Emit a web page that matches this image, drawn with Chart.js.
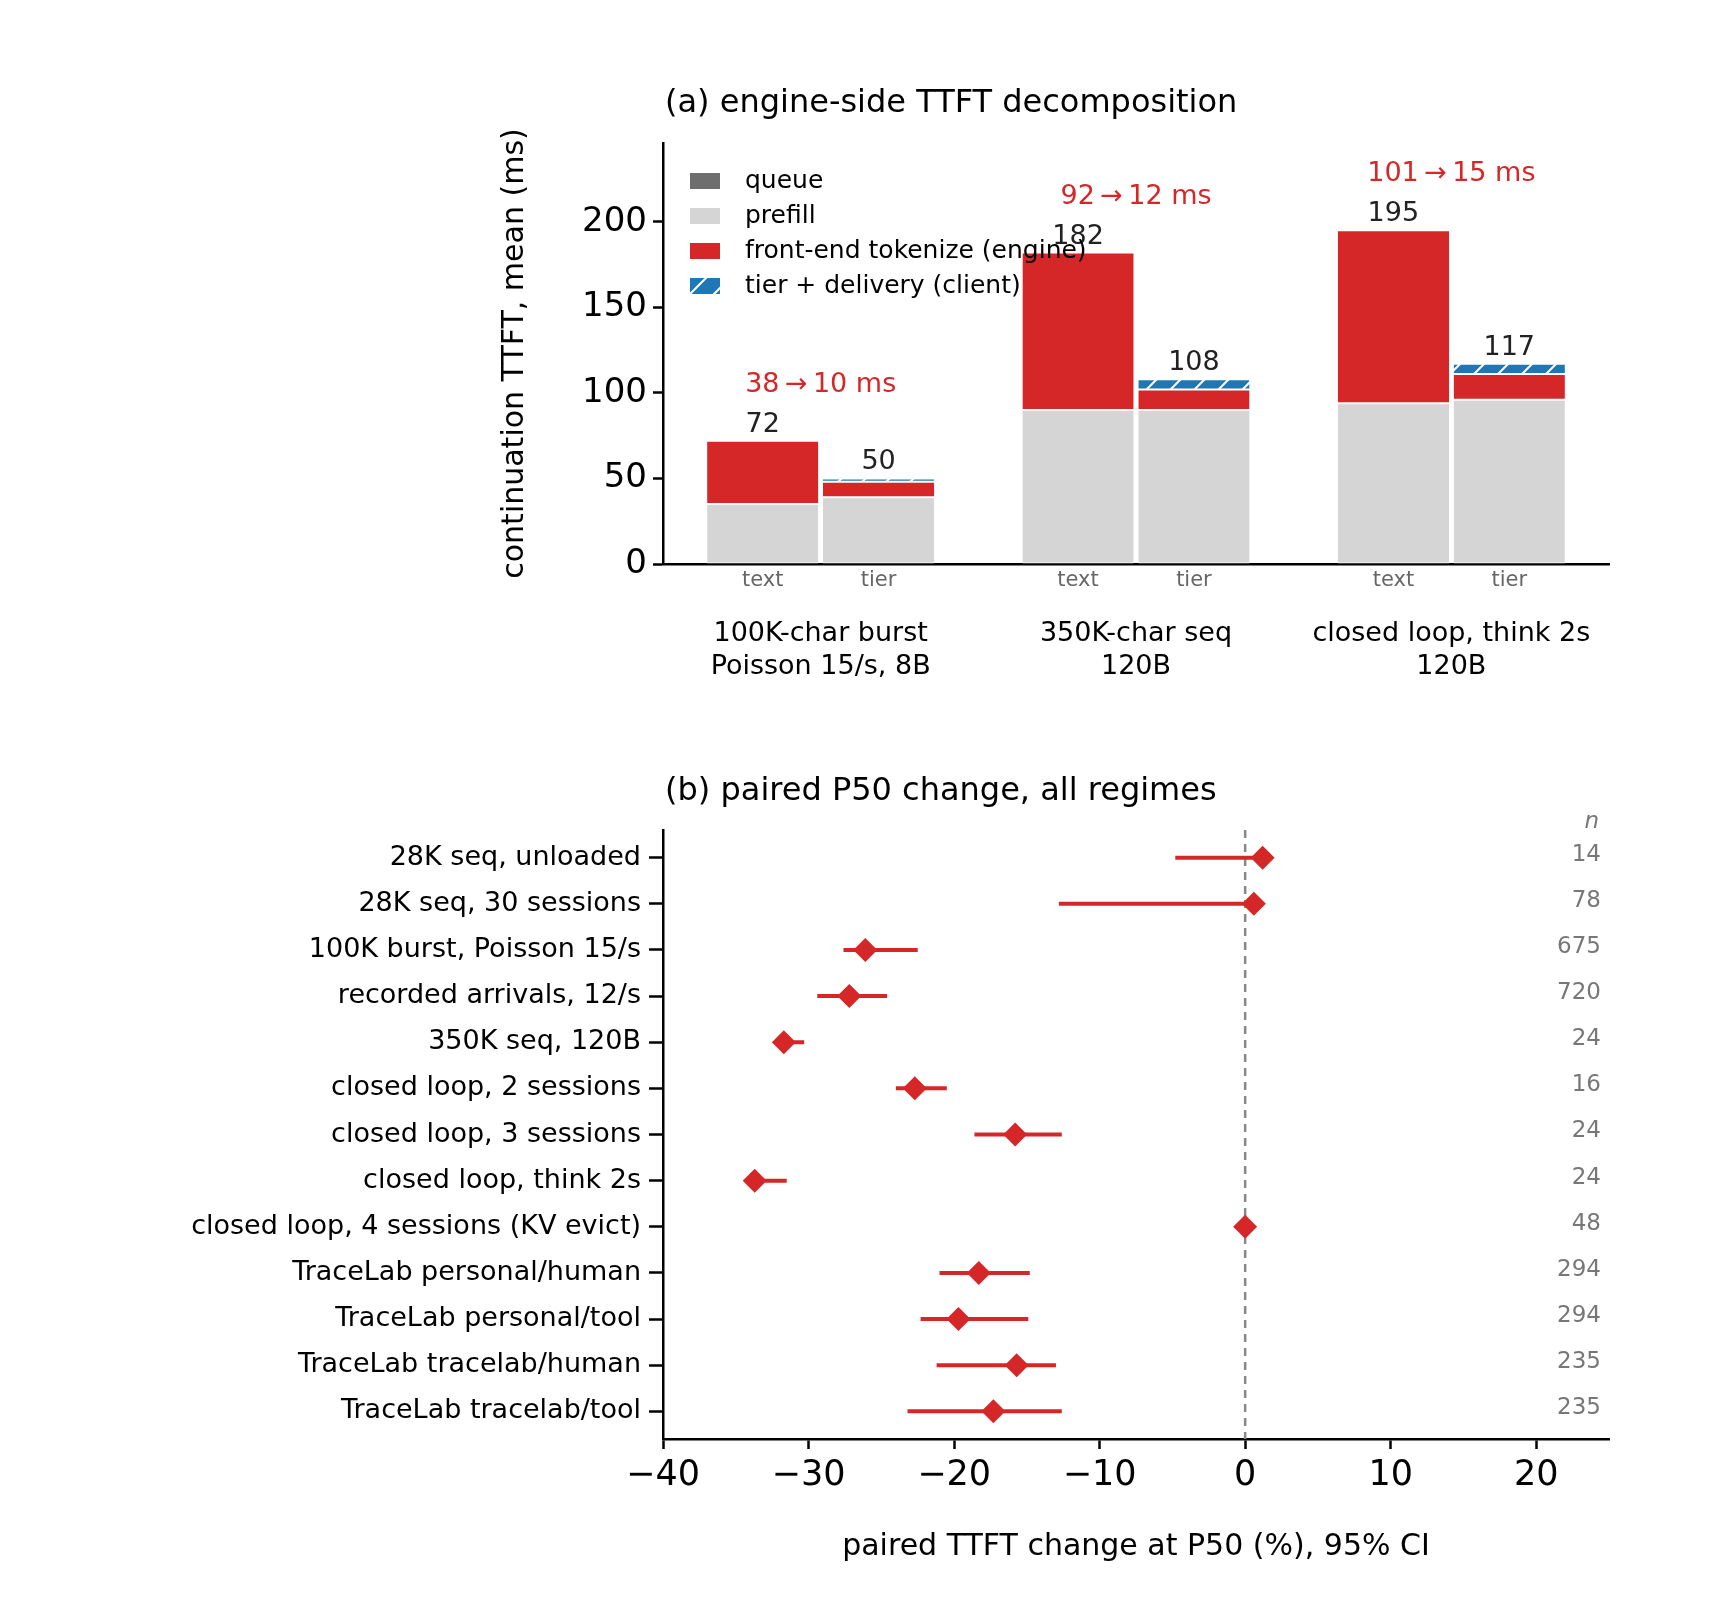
<!DOCTYPE html>
<html><head><meta charset="utf-8">
<script src="https://cdn.jsdelivr.net/npm/chart.js@4.4.1/dist/chart.umd.min.js"></script>
<style>
body{margin:0;background:#fff;width:1715px;height:1624px;position:relative;overflow:hidden}
canvas{position:absolute;left:0}
</style></head><body>
<canvas id="top" width="1715" height="720" style="top:0;width:1715px;height:720px"></canvas>
<canvas id="bot" width="1715" height="904" style="top:720px;width:1715px;height:904px"></canvas>
<script>
// ---- data panel (a)
const groups = [["100K-char burst","Poisson 15/s, 8B"],["350K-char seq","120B"],["closed loop, think 2s","120B"]];
const queueText = [0,0,0];
const prefillText = [35,90,94];
const tokenizeText = [37,92,101];
const queueTier = [0,0,0];
const prefillTier = [39,90,96];
const tokenizeTier = [9,12,15];
const deliveryTier = [2,6,6];
const totalsText = [72,182,195];
const totalsTier = [50,108,117];
const yTicks = [0,50,100,150,200];
const savings = ["38\u2009\u2192\u200910 ms","92\u2009\u2192\u200912 ms","101\u2009\u2192\u200915 ms"];
// ---- data panel (b)
const regimes = ["28K seq, unloaded","28K seq, 30 sessions","100K burst, Poisson 15/s","recorded arrivals, 12/s","350K seq, 120B","closed loop, 2 sessions","closed loop, 3 sessions","closed loop, think 2s","closed loop, 4 sessions (KV evict)","TraceLab personal/human","TraceLab personal/tool","TraceLab tracelab/human","TraceLab tracelab/tool"];
const p50Change = [1.2,0.6,-26.1,-27.2,-31.7,-22.7,-15.8,-33.7,0,-18.3,-19.7,-15.7,-17.3];
const ciLow = [-4.8,-12.8,-27.6,-29.4,-31.9,-24.0,-18.6,-33.9,0,-21.0,-22.3,-21.2,-23.2];
const ciHigh = [1.2,0.6,-22.5,-24.6,-30.3,-20.5,-12.6,-31.5,0,-14.8,-14.9,-13.0,-12.6];
const nCounts = [14,78,675,720,24,16,24,24,48,294,294,235,235];
const xTicks = [-40,-30,-20,-10,0,10,20];

const FONT = "'DejaVu Sans', sans-serif";
const RED = '#d62728', BLUE = '#1f77b4', GREY = '#d5d5d5', QGREY = '#6e6e6e';
Chart.defaults.font.family = FONT;
Chart.defaults.color = '#000';
Chart.defaults.animation = false;

function hatch(){
  const c = document.createElement('canvas'); c.width = 24; c.height = 24;
  const x = c.getContext('2d');
  x.fillStyle = BLUE; x.fillRect(0,0,24,24);
  x.strokeStyle = '#fff'; x.lineWidth = 2;
  x.beginPath(); x.moveTo(0,24); x.lineTo(24,0); x.moveTo(-6,6); x.lineTo(6,-6); x.moveTo(18,30); x.lineTo(30,18); x.stroke();
  return x.createPattern(c,'repeat');
}
const HATCH = hatch();

const ds = (label,data,stack,color) => ({label,data,stack,backgroundColor:color,borderColor:'#fff',borderWidth:{top:1,bottom:1,left:0,right:0},borderSkipped:false,categoryPercentage:0.735,barPercentage:0.96});

const topPlugin = {
  id:'topAnno',
  afterDatasetsDraw(chart){
    const {ctx, scales:{x,y}} = chart;
    ctx.save();
    ctx.textAlign='center'; ctx.textBaseline='middle';
    const mText = chart.getDatasetMeta(1), mTier = chart.getDatasetMeta(4);
    for(let i=0;i<3;i++){
      ctx.font = `27px ${FONT}`; ctx.fillStyle='#222';
      ctx.fillText(String(totalsText[i]), mText.data[i].x, y.getPixelForValue(totalsText[i])-16);
      ctx.fillText(String(totalsTier[i]), mTier.data[i].x, y.getPixelForValue(totalsTier[i])-16);
      ctx.fillStyle=RED;
      const m = Math.max(totalsText[i],totalsTier[i]);
      ctx.fillText(savings[i], x.getPixelForValue(i), y.getPixelForValue(m)-56);
      ctx.font = `21px ${FONT}`; ctx.fillStyle='#666';
      ctx.fillText('text', mText.data[i].x, y.bottom+17);
      ctx.fillText('tier', mTier.data[i].x, y.bottom+17);
    }
    ctx.fillStyle='#000'; ctx.textAlign='left'; ctx.font = `32px ${FONT}`;
    ctx.fillText('(a) engine-side TTFT decomposition', 665, 104);
    const items = [[QGREY,'queue'],[GREY,'prefill'],[RED,'front-end tokenize (engine)'],[HATCH,'tier + delivery (client)']];
    ctx.font = `25px ${FONT}`; ctx.textBaseline='middle';
    items.forEach((it,k)=>{
      const yy = 181 + k*35;
      ctx.fillStyle = it[0]; ctx.fillRect(690, yy-8, 30, 16);
      ctx.fillStyle = '#000'; ctx.fillText(it[1], 745, yy);
    });
    ctx.restore();
  }
};

new Chart(document.getElementById('top'), {
  type:'bar',
  data:{ labels: groups, datasets:[
    ds('queue',queueText,'text',QGREY),
    ds('prefill',prefillText,'text',GREY),
    ds('front-end tokenize (engine)',tokenizeText,'text',RED),
    ds('queue tier',queueTier,'tier',QGREY),
    ds('prefill tier',prefillTier,'tier',GREY),
    ds('tokenize tier',tokenizeTier,'tier',RED),
    ds('tier + delivery (client)',deliveryTier,'tier',HATCH)
  ]},
  options:{
    responsive:false, devicePixelRatio:1,
    layout:{padding:{left:497,right:106,top:143,bottom:0}},
    plugins:{legend:{display:false},tooltip:{enabled:false}},
    scales:{
      x:{stacked:true, grid:{display:false}, border:{color:'#000',width:2.5},
         ticks:{padding:46,font:{size:27},color:'#000'},
         afterFit(s){s.height=156;}},
      y:{stacked:true, min:0, max:246,
         afterBuildTicks(s){s.ticks=yTicks.map(v=>({value:v}));},
         grid:{display:true,drawOnChartArea:false,drawTicks:true,tickLength:10,tickColor:'#000',tickWidth:2.5},
         border:{color:'#000',width:2.5},
         ticks:{font:{size:34},color:'#000',padding:6},
         title:{display:true,text:'continuation TTFT, mean (ms)',font:{size:30},color:'#000',padding:0},
         afterFit(s){s.width=166;}}
    }
  },
  plugins:[topPlugin]
});

const botPlugin = {
  id:'botAnno',
  beforeDatasetsDraw(chart){
    const {ctx, scales:{x,y}} = chart;
    ctx.save();
    const x0 = x.getPixelForValue(0);
    ctx.strokeStyle='#888'; ctx.lineWidth=2.5; ctx.setLineDash([8,6]);
    ctx.beginPath(); ctx.moveTo(x0,y.top); ctx.lineTo(x0,y.bottom); ctx.stroke();
    ctx.setLineDash([]);
    ctx.strokeStyle=RED; ctx.lineWidth=4;
    regimes.forEach((r,i)=>{
      const yy = y.getPixelForValue(i);
      ctx.beginPath(); ctx.moveTo(x.getPixelForValue(ciLow[i]),yy); ctx.lineTo(x.getPixelForValue(ciHigh[i]),yy); ctx.stroke();
    });
    ctx.restore();
  },
  afterDatasetsDraw(chart){
    const {ctx, scales:{y}} = chart;
    ctx.save();
    ctx.fillStyle='#000'; ctx.font=`32px ${FONT}`; ctx.textAlign='left'; ctx.textBaseline='middle';
    ctx.fillText('(b) paired P50 change, all regimes', 665, 72);
    ctx.textAlign='right'; ctx.fillStyle='#777'; ctx.font=`italic 23px ${FONT}`;
    ctx.fillText('n', 1599, 102);
    ctx.font=`23px ${FONT}`;
    nCounts.forEach((n,i)=>ctx.fillText(String(n), 1601, y.getPixelForValue(i)-3));
    ctx.restore();
  }
};

new Chart(document.getElementById('bot'), {
  type:'scatter',
  data:{ datasets:[{ data: p50Change.map((v,i)=>({x:v,y:i})), pointStyle:'rectRot', radius:12, backgroundColor:RED, borderColor:RED, borderWidth:0 }]},
  options:{
    responsive:false, devicePixelRatio:1,
    layout:{padding:{left:0,right:106,top:110,bottom:59}},
    plugins:{legend:{display:false},tooltip:{enabled:false}},
    scales:{
      x:{type:'linear', min:-40, max:25,
         afterBuildTicks(s){s.ticks=xTicks.map(v=>({value:v}));},
         grid:{display:true,drawOnChartArea:false,drawTicks:true,tickLength:10,tickColor:'#000',tickWidth:2.5},
         border:{color:'#000',width:2.5},
         ticks:{font:{size:35},color:'#000',padding:6,callback:v=>String(v).replace('-','\u2212')},
         title:{display:true,text:'paired TTFT change at P50 (%), 95% CI',font:{size:30},color:'#000',padding:{top:4,bottom:0}},
         afterFit(s){s.height=126;}},
      y:{type:'linear', min:-0.6, max:12.6, reverse:true,
         afterBuildTicks(s){s.ticks=regimes.map((r,i)=>({value:i}));},
         grid:{display:true,drawOnChartArea:false,drawTicks:true,tickLength:14,tickColor:'#000',tickWidth:2.5},
         border:{color:'#000',width:2.5},
         ticks:{font:{size:27},color:'#000',padding:8,autoSkip:false,callback:v=>regimes[v]},
         afterFit(s){s.width=663;}}
    }
  },
  plugins:[botPlugin]
});
</script>
</body></html>
